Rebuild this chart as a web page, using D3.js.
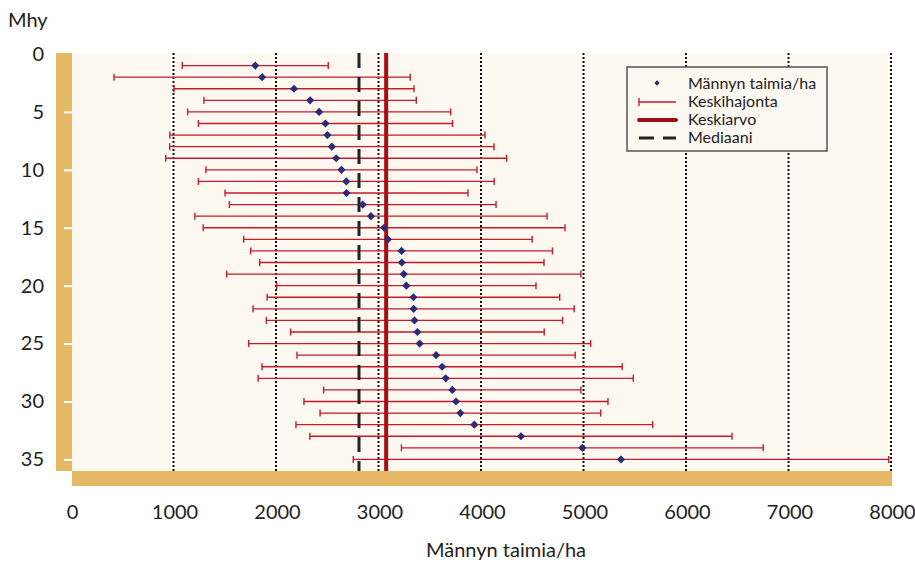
<!DOCTYPE html>
<html>
<head>
<meta charset="utf-8">
<script src="https://cdn.jsdelivr.net/npm/d3@7"></script>
<style>
  body { margin: 0; background: #fff; }
  text { font-family: Lato, "Open Sans", sans-serif; fill: #222; }
</style>
</head>
<body>
<div class="chart"></div>
<script>
// Mhy rows 1..35: mean seedlings/ha and standard deviation
const ages = d3.range(1, 36)
const means = [1788, 1855, 2166, 2323, 2411, 2473, 2492, 2535, 2577, 2629,
    2676, 2678, 2836, 2917, 3045, 3082, 3215, 3218, 3237, 3262,
    3331, 3333, 3341, 3370, 3392, 3552, 3611, 3646, 3710, 3746,
    3789, 3925, 4380, 4979, 5356]
const sds = [712, 1445, 1171, 1036, 1283, 1240, 1537, 1582, 1663, 1322,
    1443, 1185, 1301, 1718, 1765, 1407, 1472, 1387, 1728, 1265,
    1427, 1567, 1445, 1237, 1668, 1357, 1757, 1830, 1255, 1483,
    1369, 1740, 2059, 1765, 2612]
const overallMean = 3065
const overallMedian = 2800
const xTicks = [0, 1000, 2000, 3000, 4000, 5000, 6000, 7000, 8000]
const yTicks = [0, 5, 10, 15, 20, 25, 30, 35]
const legendLabels = ["Männyn taimia/ha", "Keskihajonta", "Keskiarvo", "Mediaani"]

const width = 915
const height = 566
const plot = { left: 72, right: 892, top: 53, bottom: 471 }

const data = ages.map((a, i) => ({ age: a, mean: means[i], sd: sds[i] }))

const x = d3.scaleLinear()
    .domain([0, 8000])
    .range([plot.left, plot.right])
const y = d3.scaleLinear()
    .domain([0, 36])
    .range([54, plot.bottom])

const svg = d3.select(".chart")
    .append("svg")
    .attr("width", width)
    .attr("height", height)

// plot background, wall and floor
svg.append("rect")
    .attr("x", plot.left).attr("y", plot.top)
    .attr("width", plot.right - plot.left).attr("height", plot.bottom - plot.top)
    .attr("fill", "#fdf8f0")
svg.append("rect")
    .attr("x", 56).attr("y", plot.top)
    .attr("width", plot.left - 56).attr("height", plot.bottom - plot.top)
    .attr("fill", "#e4b865")
svg.append("rect")
    .attr("x", plot.left).attr("y", plot.bottom)
    .attr("width", plot.right - plot.left).attr("height", 15)
    .attr("fill", "#e4b865")

// dotted grid
svg.selectAll("line.grid")
    .data(xTicks.filter(d => d > 0))
    .join("line")
    .attr("class", "grid")
    .attr("x1", d => x(d) - 1).attr("x2", d => x(d) - 1)
    .attr("y1", plot.top).attr("y2", plot.bottom)
    .attr("stroke", "#111")
    .attr("stroke-width", 2)
    .attr("stroke-dasharray", "2,2")

// error bars
const bars = svg.append("g")
    .attr("stroke", "#c41a2c")
    .attr("stroke-width", 1.4)
bars.selectAll("line.bar")
    .data(data)
    .join("line")
    .attr("class", "bar")
    .attr("x1", d => x(d.mean - d.sd)).attr("x2", d => x(d.mean + d.sd))
    .attr("y1", d => y(d.age)).attr("y2", d => y(d.age))
bars.selectAll("line.capL")
    .data(data)
    .join("line")
    .attr("class", "capL")
    .attr("x1", d => x(d.mean - d.sd)).attr("x2", d => x(d.mean - d.sd))
    .attr("y1", d => y(d.age) - 3.5).attr("y2", d => y(d.age) + 3.5)
bars.selectAll("line.capR")
    .data(data)
    .join("line")
    .attr("class", "capR")
    .attr("x1", d => x(d.mean + d.sd)).attr("x2", d => x(d.mean + d.sd))
    .attr("y1", d => y(d.age) - 3.5).attr("y2", d => y(d.age) + 3.5)

// median and mean
svg.append("line")
    .attr("x1", x(overallMedian)).attr("x2", x(overallMedian))
    .attr("y1", plot.top).attr("y2", plot.bottom)
    .attr("stroke", "#222")
    .attr("stroke-width", 3)
    .attr("stroke-dasharray", "15,9")
svg.append("line")
    .attr("x1", x(overallMean)).attr("x2", x(overallMean))
    .attr("y1", plot.top).attr("y2", plot.bottom)
    .attr("stroke", "#a50d16")
    .attr("stroke-width", 4)

// diamonds
svg.selectAll("path.pt")
    .data(data)
    .join("path")
    .attr("class", "pt")
    .attr("d", d3.symbol(d3.symbolSquare, 34))
    .attr("transform", d => `translate(${x(d.mean)}, ${y(d.age)}) rotate(45)`)
    .attr("fill", "#2d2b72")

// axes
const yAxis = d3.axisLeft(y)
    .tickValues(yTicks)
    .tickSize(8)
    .tickPadding(20)
const gy = svg.append("g")
    .attr("transform", `translate(${plot.left}, 0)`)
    .call(yAxis)
gy.select(".domain").remove()
gy.selectAll(".tick line").attr("stroke", "#fff").attr("stroke-width", 2)
gy.selectAll(".tick text").attr("font-size", 20).attr("fill", "#222")
gy.selectAll(".tick").filter(d => d === 0).select("line").remove()

const xAxis = d3.axisBottom(x)
    .tickValues(xTicks)
    .tickSize(0)
    .tickPadding(19)
    .tickFormat(d3.format("d"))
const gx = svg.append("g")
    .attr("transform", `translate(0, ${plot.bottom + 15})`)
    .call(xAxis)
gx.select(".domain").remove()
gx.selectAll(".tick text").attr("font-size", 20).attr("fill", "#222")

svg.append("text")
    .text("Mhy")
    .attr("x", 8).attr("y", 27)
    .attr("font-size", 20)
svg.append("text")
    .text("Männyn taimia/ha")
    .attr("x", 506).attr("y", 557)
    .attr("text-anchor", "middle")
    .attr("font-size", 20)

// legend
const lg = svg.append("g").attr("transform", "translate(627, 67)")
lg.append("rect")
    .attr("width", 200).attr("height", 84)
    .attr("fill", "#fdf8f0")
    .attr("stroke", "#555")
    .attr("stroke-width", 1.5)
lg.append("path")
    .attr("d", d3.symbol(d3.symbolSquare, 14))
    .attr("transform", "translate(30, 16) rotate(45)")
    .attr("fill", "#2d2b72")
lg.append("line")
    .attr("x1", 12).attr("x2", 49).attr("y1", 35).attr("y2", 35)
    .attr("stroke", "#c41a2c").attr("stroke-width", 1.4)
lg.append("line")
    .attr("x1", 12).attr("x2", 12).attr("y1", 31).attr("y2", 39)
    .attr("stroke", "#c41a2c").attr("stroke-width", 1.4)
lg.append("line")
    .attr("x1", 12).attr("x2", 49).attr("y1", 53).attr("y2", 53)
    .attr("stroke", "#a50d16").attr("stroke-width", 4)
    .attr("stroke-linecap", "round")
lg.append("line")
    .attr("x1", 12).attr("x2", 49).attr("y1", 71).attr("y2", 71)
    .attr("stroke", "#222").attr("stroke-width", 3)
    .attr("stroke-dasharray", "15,9")
lg.selectAll("text")
    .data(legendLabels)
    .join("text")
    .text(d => d)
    .attr("x", 61)
    .attr("y", (d, i) => 22 + i * 18)
    .attr("font-size", 16)
</script>
</body>
</html>
